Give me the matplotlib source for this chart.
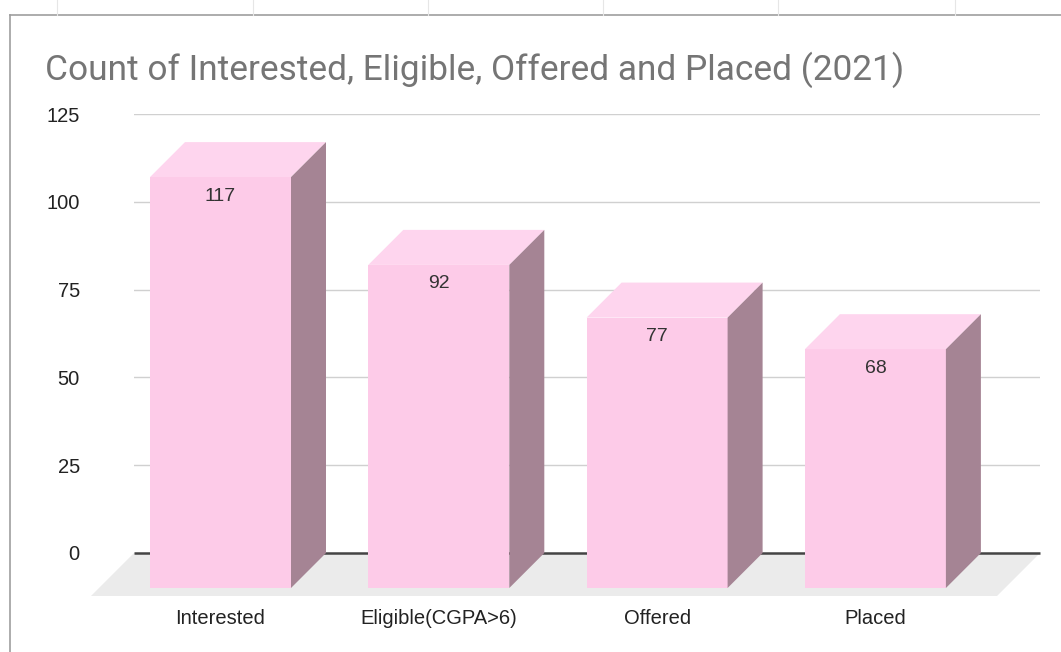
import matplotlib
matplotlib.use("Agg")
import matplotlib.pyplot as plt
from matplotlib.patches import Polygon
from matplotlib.lines import Line2D

categories = ["Interested", "Eligible(CGPA>6)", "Offered", "Placed"]
values = [117, 92, 77, 68]
yticks = [0, 25, 50, 75, 100, 125]
title = "Count of Interested, Eligible, Offered and Placed (2021)"

W, H = 1061, 652
fig = plt.figure(figsize=(W / 100, H / 100), dpi=100)
fig.patch.set_facecolor("white")

# back plane position in pixels
left_px, right_px = 134, 1040
zero_px, top_px = 553, 114
ax = fig.add_axes([left_px / W, 1 - zero_px / H, (right_px - left_px) / W, (zero_px - top_px) / H])
ax.set_ylim(0, 125)
px_per_val = (zero_px - top_px) / 125.0
spacing_px = 218.3
first_center_px = 220.5
ax.set_xlim((left_px - first_center_px) / spacing_px, (right_px - first_center_px) / spacing_px)

for s in ax.spines.values():
    s.set_visible(False)
ax.set_xticks([])
ax.set_yticks(yticks)
ax.set_yticklabels([str(t) for t in yticks], fontsize=14.5, color="#222222", family="Liberation Sans")
ax.tick_params(axis="y", length=0, pad=39)
for t in yticks[1:]:
    ax.axhline(t, color="#d0d0d0", lw=1.0, zorder=0)

# depth offsets
d_px = 35
dx = d_px / spacing_px
dy = d_px / px_per_val
f_px = 43
fdx = f_px / spacing_px
fdy = f_px / px_per_val
xl0, xr0 = ax.get_xlim()

# floor
floor = Polygon([(xl0, 0), (xr0, 0), (xr0 - fdx, -fdy), (xl0 - fdx, -fdy)],
                closed=True, facecolor="#ebebeb", edgecolor="none", clip_on=False, zorder=1)
ax.add_patch(floor)
ax.plot([xl0, xr0], [0, 0], color="#444444", lw=1.8, zorder=2, clip_on=False, solid_capstyle="butt")

bw = 141 / spacing_px
front_c = "#fdcbe8"
top_c = "#fed5ee"
side_c = "#a58494"
for i, v in enumerate(values):
    xl = i - bw / 2
    xr = i + bw / 2
    front = Polygon([(xl, -dy), (xr, -dy), (xr, v - dy), (xl, v - dy)], closed=True,
                    facecolor=front_c, edgecolor="none", clip_on=False, zorder=5)
    top = Polygon([(xl, v - dy), (xr, v - dy), (xr + dx, v), (xl + dx, v)], closed=True,
                  facecolor=top_c, edgecolor="none", clip_on=False, zorder=5)
    side = Polygon([(xr, -dy), (xr + dx, 0), (xr + dx, v), (xr, v - dy)], closed=True,
                   facecolor=side_c, edgecolor="none", clip_on=False, zorder=5)
    for p in (front, top, side):
        ax.add_patch(p)
    ax.text(i, v - dy - 19 / px_per_val, str(v), ha="center", va="center", fontsize=14,
            color="#333333", family="Liberation Sans", zorder=6)
    ax.text(i, -65 / px_per_val, categories[i], ha="center", va="center", fontsize=14.5,
            color="#222222", family="Liberation Sans", clip_on=False, zorder=6)

# title
fig.text(45 / W, 1 - 70 / H, title, ha="left", va="center", fontsize=25.4,
         color="#757575", family="Roboto")

# sheet frame lines
fig.add_artist(Line2D([10 / W, 10 / W], [0, 1 - 15 / H], color="#9e9e9e", lw=1.2))
fig.add_artist(Line2D([10 / W, 1], [1 - 15 / H, 1 - 15 / H], color="#9e9e9e", lw=1.2))
for xp in [57, 253, 428, 603, 778, 955]:
    fig.add_artist(Line2D([xp / W, xp / W], [1 - 15 / H, 1], color="#e6e6e6", lw=0.8))

fig.savefig("out.png", dpi=100)
